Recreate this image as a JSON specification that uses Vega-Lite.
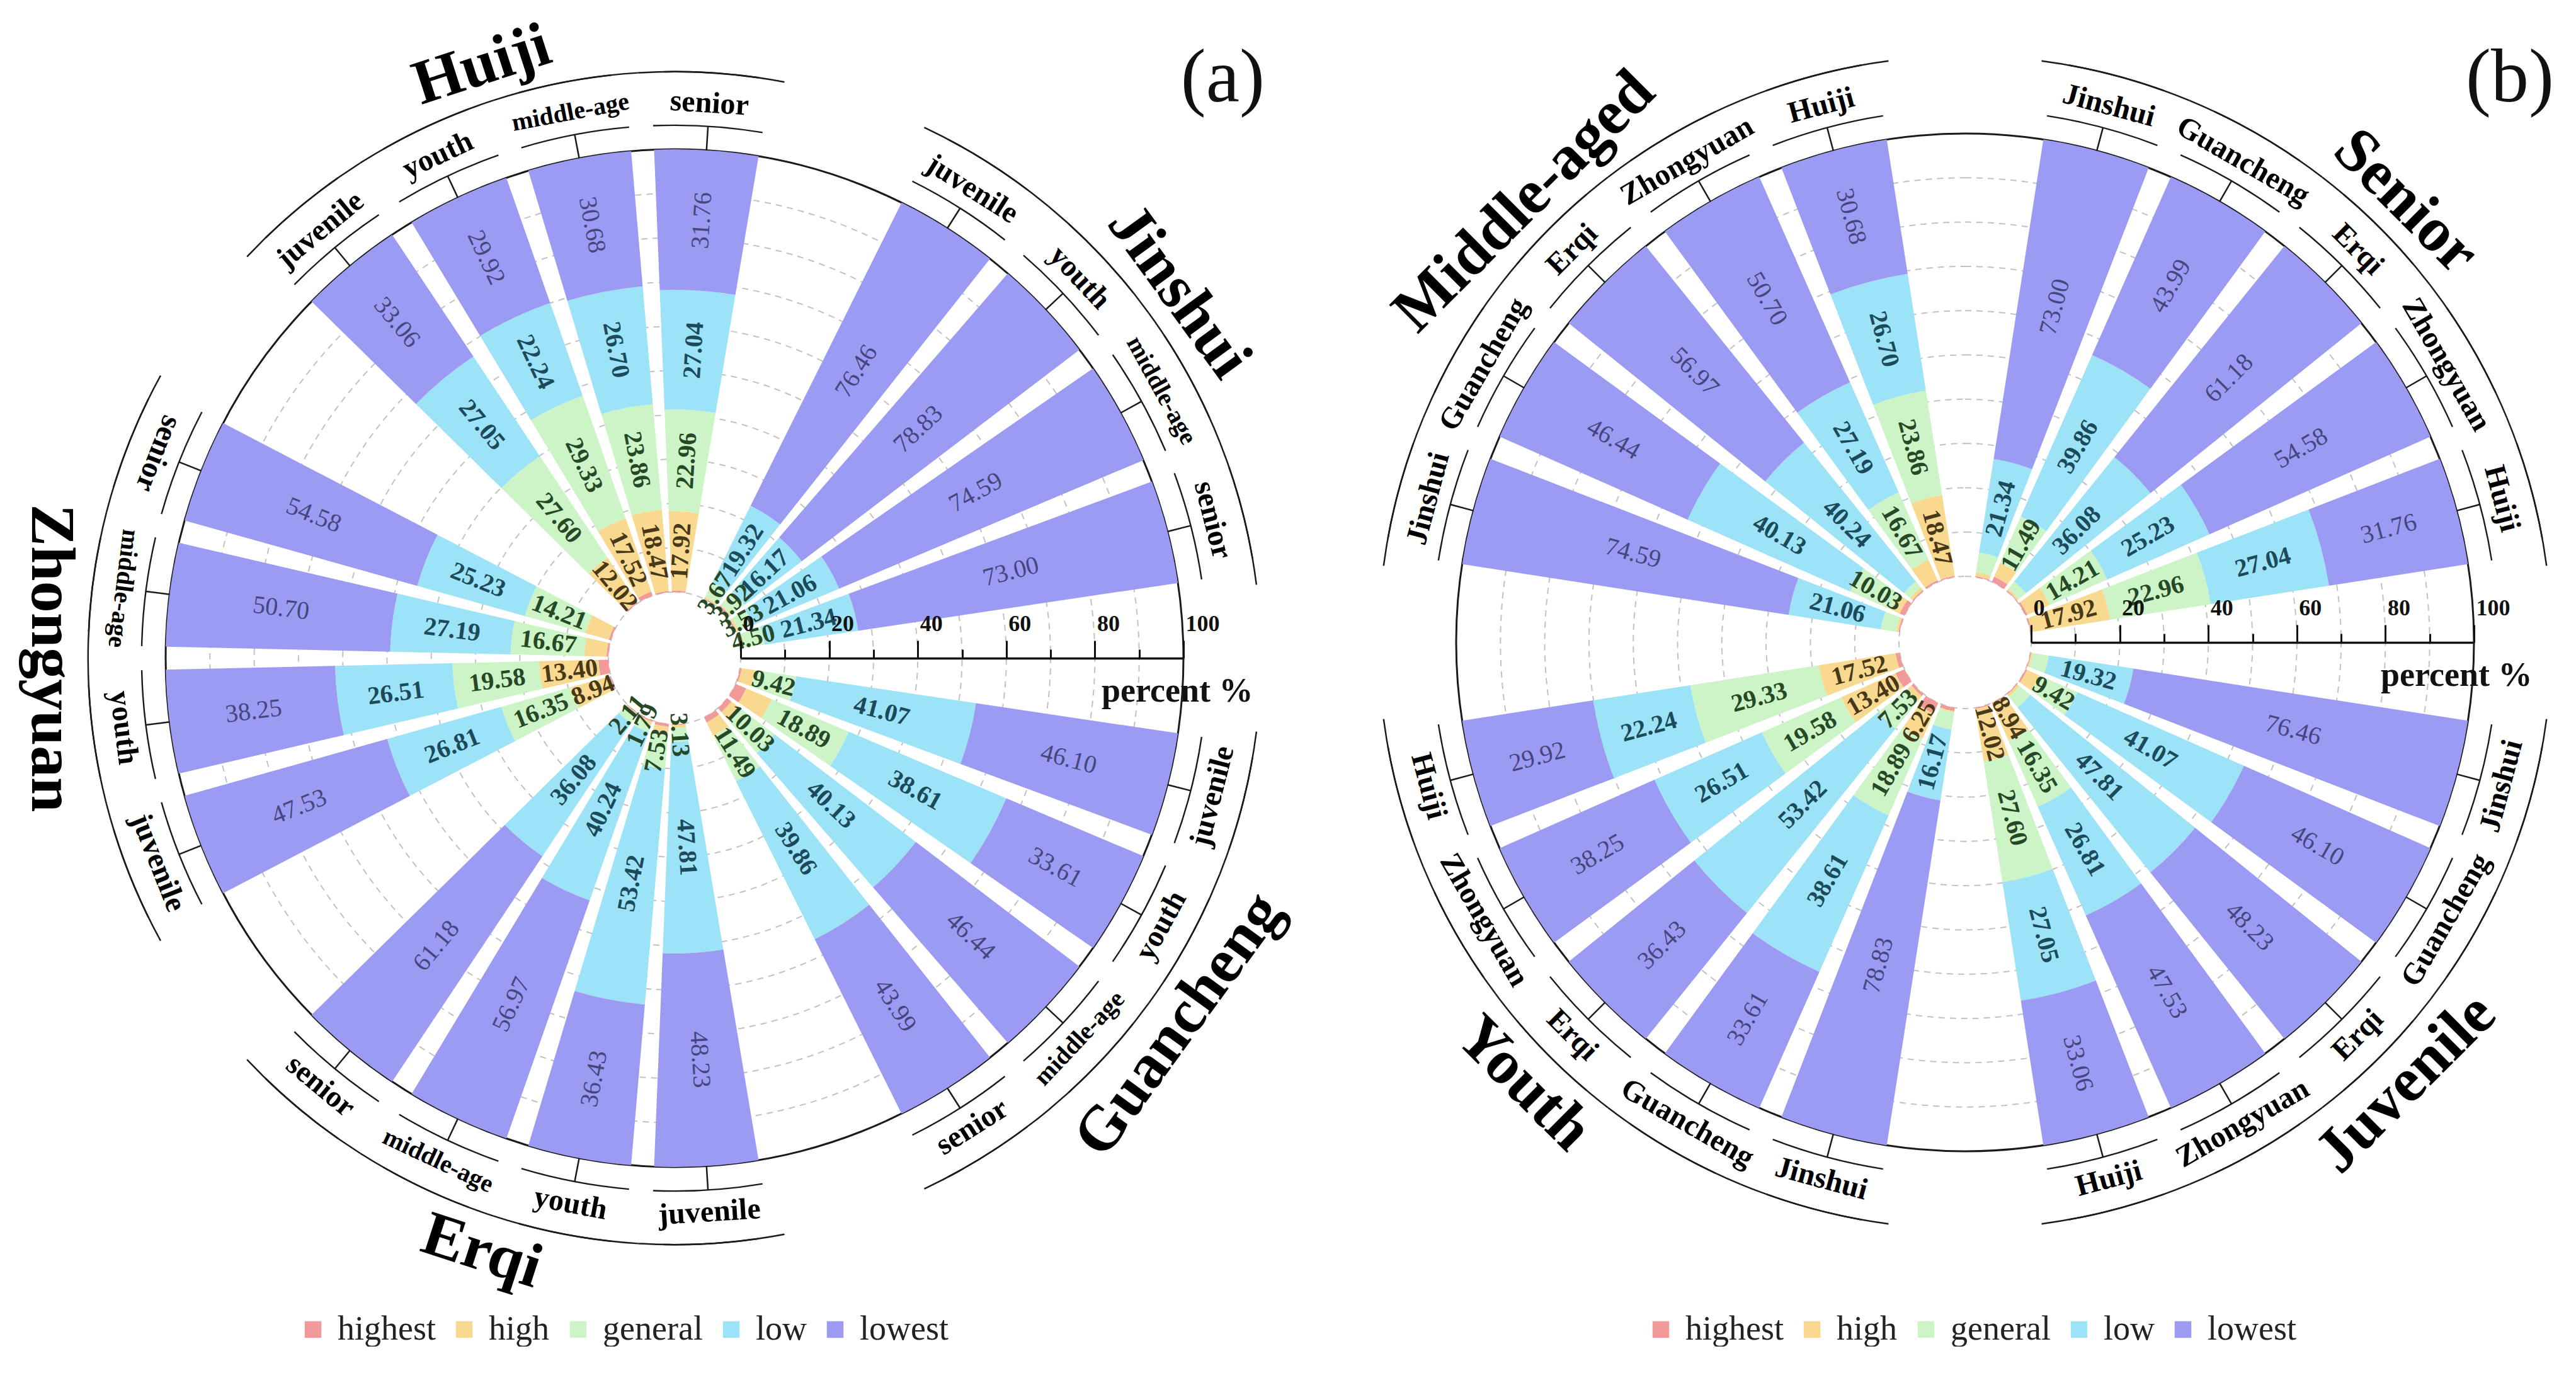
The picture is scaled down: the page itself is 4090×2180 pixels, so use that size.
{
  "$schema": "https://vega.github.io/schema/vega-lite/v6.json",
  "background": "white",
  "padding": 0,
  "bounds": "flush",
  "spacing": 0,
  "config": {"view": {"stroke": null}, "text": {"font": "Liberation Serif"},
    "axis": {"labelFont": "Liberation Serif", "titleFont": "Liberation Serif"},
    "legend": {"labelFont": "Liberation Serif", "titleFont": "Liberation Serif"},
    "style": {"guide-label": {"font": "Liberation Serif"}, "guide-title": {"font": "Liberation Serif"}}},
  "datasets": {
    "bars": [
      {"d":"Guancheng","a":"juvenile","c":"highest","v":0.41},{"d":"Guancheng","a":"juvenile","c":"high","v":3.00},{"d":"Guancheng","a":"juvenile","c":"general","v":9.42},{"d":"Guancheng","a":"juvenile","c":"low","v":41.07},{"d":"Guancheng","a":"juvenile","c":"lowest","v":46.10},
      {"d":"Guancheng","a":"youth","c":"highest","v":2.64},{"d":"Guancheng","a":"youth","c":"high","v":6.25},{"d":"Guancheng","a":"youth","c":"general","v":18.89},{"d":"Guancheng","a":"youth","c":"low","v":38.61},{"d":"Guancheng","a":"youth","c":"lowest","v":33.61},
      {"d":"Guancheng","a":"middle-age","c":"highest","v":1.20},{"d":"Guancheng","a":"middle-age","c":"high","v":2.20},{"d":"Guancheng","a":"middle-age","c":"general","v":10.03},{"d":"Guancheng","a":"middle-age","c":"low","v":40.13},{"d":"Guancheng","a":"middle-age","c":"lowest","v":46.44},
      {"d":"Guancheng","a":"senior","c":"highest","v":1.30},{"d":"Guancheng","a":"senior","c":"high","v":3.36},{"d":"Guancheng","a":"senior","c":"general","v":11.49},{"d":"Guancheng","a":"senior","c":"low","v":39.86},{"d":"Guancheng","a":"senior","c":"lowest","v":43.99},
      {"d":"Erqi","a":"juvenile","c":"highest","v":0.23},{"d":"Erqi","a":"juvenile","c":"high","v":0.60},{"d":"Erqi","a":"juvenile","c":"general","v":3.13},{"d":"Erqi","a":"juvenile","c":"low","v":47.81},{"d":"Erqi","a":"juvenile","c":"lowest","v":48.23},
      {"d":"Erqi","a":"youth","c":"highest","v":0.62},{"d":"Erqi","a":"youth","c":"high","v":2.00},{"d":"Erqi","a":"youth","c":"general","v":7.53},{"d":"Erqi","a":"youth","c":"low","v":53.42},{"d":"Erqi","a":"youth","c":"lowest","v":36.43},
      {"d":"Erqi","a":"middle-age","c":"highest","v":0.30},{"d":"Erqi","a":"middle-age","c":"high","v":0.70},{"d":"Erqi","a":"middle-age","c":"general","v":1.79},{"d":"Erqi","a":"middle-age","c":"low","v":40.24},{"d":"Erqi","a":"middle-age","c":"lowest","v":56.97},
      {"d":"Erqi","a":"senior","c":"highest","v":0.20},{"d":"Erqi","a":"senior","c":"high","v":0.43},{"d":"Erqi","a":"senior","c":"general","v":2.11},{"d":"Erqi","a":"senior","c":"low","v":36.08},{"d":"Erqi","a":"senior","c":"lowest","v":61.18},
      {"d":"Zhongyuan","a":"juvenile","c":"highest","v":0.37},{"d":"Zhongyuan","a":"juvenile","c":"high","v":8.94},{"d":"Zhongyuan","a":"juvenile","c":"general","v":16.35},{"d":"Zhongyuan","a":"juvenile","c":"low","v":26.81},{"d":"Zhongyuan","a":"juvenile","c":"lowest","v":47.53},
      {"d":"Zhongyuan","a":"youth","c":"highest","v":2.26},{"d":"Zhongyuan","a":"youth","c":"high","v":13.40},{"d":"Zhongyuan","a":"youth","c":"general","v":19.58},{"d":"Zhongyuan","a":"youth","c":"low","v":26.51},{"d":"Zhongyuan","a":"youth","c":"lowest","v":38.25},
      {"d":"Zhongyuan","a":"middle-age","c":"highest","v":0.44},{"d":"Zhongyuan","a":"middle-age","c":"high","v":5.00},{"d":"Zhongyuan","a":"middle-age","c":"general","v":16.67},{"d":"Zhongyuan","a":"middle-age","c":"low","v":27.19},{"d":"Zhongyuan","a":"middle-age","c":"lowest","v":50.70},
      {"d":"Zhongyuan","a":"senior","c":"highest","v":0.48},{"d":"Zhongyuan","a":"senior","c":"high","v":5.50},{"d":"Zhongyuan","a":"senior","c":"general","v":14.21},{"d":"Zhongyuan","a":"senior","c":"low","v":25.23},{"d":"Zhongyuan","a":"senior","c":"lowest","v":54.58},
      {"d":"Huiji","a":"juvenile","c":"highest","v":0.27},{"d":"Huiji","a":"juvenile","c":"high","v":12.02},{"d":"Huiji","a":"juvenile","c":"general","v":27.60},{"d":"Huiji","a":"juvenile","c":"low","v":27.05},{"d":"Huiji","a":"juvenile","c":"lowest","v":33.06},
      {"d":"Huiji","a":"youth","c":"highest","v":0.99},{"d":"Huiji","a":"youth","c":"high","v":17.52},{"d":"Huiji","a":"youth","c":"general","v":29.33},{"d":"Huiji","a":"youth","c":"low","v":22.24},{"d":"Huiji","a":"youth","c":"lowest","v":29.92},
      {"d":"Huiji","a":"middle-age","c":"highest","v":0.29},{"d":"Huiji","a":"middle-age","c":"high","v":18.47},{"d":"Huiji","a":"middle-age","c":"general","v":23.86},{"d":"Huiji","a":"middle-age","c":"low","v":26.70},{"d":"Huiji","a":"middle-age","c":"lowest","v":30.68},
      {"d":"Huiji","a":"senior","c":"highest","v":0.32},{"d":"Huiji","a":"senior","c":"high","v":17.92},{"d":"Huiji","a":"senior","c":"general","v":22.96},{"d":"Huiji","a":"senior","c":"low","v":27.04},{"d":"Huiji","a":"senior","c":"lowest","v":31.76},
      {"d":"Jinshui","a":"juvenile","c":"highest","v":0.20},{"d":"Jinshui","a":"juvenile","c":"high","v":0.35},{"d":"Jinshui","a":"juvenile","c":"general","v":3.67},{"d":"Jinshui","a":"juvenile","c":"low","v":19.32},{"d":"Jinshui","a":"juvenile","c":"lowest","v":76.46},
      {"d":"Jinshui","a":"youth","c":"highest","v":0.80},{"d":"Jinshui","a":"youth","c":"high","v":0.28},{"d":"Jinshui","a":"youth","c":"general","v":3.92},{"d":"Jinshui","a":"youth","c":"low","v":16.17},{"d":"Jinshui","a":"youth","c":"lowest","v":78.83},
      {"d":"Jinshui","a":"middle-age","c":"highest","v":0.32},{"d":"Jinshui","a":"middle-age","c":"high","v":0.50},{"d":"Jinshui","a":"middle-age","c":"general","v":3.53},{"d":"Jinshui","a":"middle-age","c":"low","v":21.06},{"d":"Jinshui","a":"middle-age","c":"lowest","v":74.59},
      {"d":"Jinshui","a":"senior","c":"highest","v":0.26},{"d":"Jinshui","a":"senior","c":"high","v":0.90},{"d":"Jinshui","a":"senior","c":"general","v":4.50},{"d":"Jinshui","a":"senior","c":"low","v":21.34},{"d":"Jinshui","a":"senior","c":"lowest","v":73.00}
    ]
  },
  "resolve": {"scale": {"theta": "independent", "radius": "independent", "x": "independent", "color": "independent"}, "legend": {"color": "independent"}},
  "hconcat": [
    {
      "name": "pa",
      "width": 2142,
      "height": 2090,
      "title": {"text": "(a)", "anchor": "end", "frame": "group", "orient": "top", "offset": 0, "dx": -134, "dy": 281, "baseline": "alphabetic", "fontSize": 120, "font": "Liberation Serif", "fontWeight": "normal", "color": "#111111"},
      "data": {"name": "bars"},
      "transform": [
        {"calculate": "datum.d + '|' + datum.a", "as": "k"},
        {"calculate": "indexof(['highest','high','general','low','lowest'], datum.c)", "as": "o"}
      ],
      "layer": [
        {
          "data": {"values": [{"r":0},{"r":10},{"r":20},{"r":30},{"r":40},{"r":50},{"r":60},{"r":70},{"r":80},{"r":90}]},
          "mark": {"type": "arc", "theta": 0, "theta2": 6.2832, "radius2": 0, "filled": false, "color": "#c2c2c2", "strokeWidth": 2, "strokeDash": [10, 8]},
          "encoding": {"radius": {"field": "r", "type": "quantitative", "stack": null, "scale": {"type": "linear", "domain": [0, 100], "range": [105, 808], "zero": false, "nice": false}}}
        },
        {
          "data": {"values": [{"r":100}]},
          "mark": {"type": "arc", "theta": 0, "theta2": 6.2832, "radius2": 0, "filled": false, "color": "#1a1a1a", "strokeWidth": 3},
          "encoding": {"radius": {"field": "r", "type": "quantitative", "stack": null, "scale": {"type": "linear", "domain": [0, 100], "range": [105, 808], "zero": false, "nice": false}}}
        },
        {
          "mark": {"type": "arc"},
          "encoding": {
            "theta": {"field": "k", "type": "nominal", "scale": {"type":"band","domain":["Guancheng|juvenile","Guancheng|youth","Guancheng|middle-age","Guancheng|senior","g1","Erqi|juvenile","Erqi|youth","Erqi|middle-age","Erqi|senior","g2","Zhongyuan|juvenile","Zhongyuan|youth","Zhongyuan|middle-age","Zhongyuan|senior","g3","Huiji|juvenile","Huiji|youth","Huiji|middle-age","Huiji|senior","g4","Jinshui|juvenile","Jinshui|youth","Jinshui|middle-age","Jinshui|senior","g5"],"range":[1.69646,7.979645],"paddingInner":0.18,"paddingOuter":0.09}},
            "radius": {"field": "v", "type": "quantitative", "stack": "zero", "scale": {"type": "linear", "domain": [0, 100], "range": [105, 808], "zero": false, "nice": false}},
            "color": {"field": "c", "type": "nominal", "scale": {"domain": ["highest","high","general","low","lowest"], "range": ["#F29A9A","#F9D98F","#CCF4C6","#9DE3F8","#9B9BF3"]},
              "legend": {"orient": "none", "legendX": 470, "legendY": 2084, "direction": "horizontal", "gridAlign": "none", "title": null, "symbolType": "square", "symbolSize": 700, "symbolStrokeWidth": 0, "symbolOpacity": 1, "labelFont": "Liberation Serif", "labelFontSize": 54, "labelFontWeight": "normal", "labelColor": "#222222", "labelOffset": 12, "columnPadding": 18, "labelLimit": 400, "padding": 0}},
            "order": {"field": "o", "type": "quantitative"}
          }
        },
        {
          "mark": {"type": "text", "fontSize": 40, "align": "center", "baseline": "middle",
            "fontWeight": {"expr": "datum.c == 'lowest' ? 'normal' : 'bold'"},
            "angle": {"expr": "((scale('pa_theta', datum.k) + bandwidth('pa_theta') * 0.5) * 57.29578 % 360) < 180 ? ((scale('pa_theta', datum.k) + bandwidth('pa_theta') * 0.5) * 57.29578 % 360) - 90 : ((scale('pa_theta', datum.k) + bandwidth('pa_theta') * 0.5) * 57.29578 % 360) - 270"}},
          "encoding": {
            "theta": {"field": "k", "type": "nominal", "scale": {"type":"band","domain":["Guancheng|juvenile","Guancheng|youth","Guancheng|middle-age","Guancheng|senior","g1","Erqi|juvenile","Erqi|youth","Erqi|middle-age","Erqi|senior","g2","Zhongyuan|juvenile","Zhongyuan|youth","Zhongyuan|middle-age","Zhongyuan|senior","g3","Huiji|juvenile","Huiji|youth","Huiji|middle-age","Huiji|senior","g4","Jinshui|juvenile","Jinshui|youth","Jinshui|middle-age","Jinshui|senior","g5"],"range":[1.69646,7.979645],"paddingInner":0.18,"paddingOuter":0.09}},
            "radius": {"field": "v", "type": "quantitative", "stack": "zero", "scale": {"type": "linear", "domain": [0, 100], "range": [105, 808], "zero": false, "nice": false}},
            "detail": {"field": "c"},
            "order": {"field": "o", "type": "quantitative"},
            "text": {"field": "v", "type": "quantitative", "format": ".2f", "condition": {"test": "datum.c == 'highest' || (datum.c == 'high' && datum.v < 8)", "value": ""}},
            "color": {"condition": [{"test": "datum.c == 'lowest'", "value": "#46467f"}, {"test": "datum.c == 'low'", "value": "#1b4a5a"}, {"test": "datum.c == 'general'", "value": "#274827"}], "value": "#473818"}
          }
        },
        {
          "transform": [{"filter": "datum.c == 'lowest'"}],
          "mark": {"type": "arc", "color": "#1a1a1a"},
          "encoding": {
            "theta": {"field": "k", "type": "nominal", "scale": {"type":"band","domain":["Guancheng|juvenile","Guancheng|youth","Guancheng|middle-age","Guancheng|senior","g1","Erqi|juvenile","Erqi|youth","Erqi|middle-age","Erqi|senior","g2","Zhongyuan|juvenile","Zhongyuan|youth","Zhongyuan|middle-age","Zhongyuan|senior","g3","Huiji|juvenile","Huiji|youth","Huiji|middle-age","Huiji|senior","g4","Jinshui|juvenile","Jinshui|youth","Jinshui|middle-age","Jinshui|senior","g5"],"range":[1.69646,7.979645],"paddingInner":0.18,"paddingOuter":0.09}},
            "radius": {"datum": 105.26, "type": "quantitative", "scale": {"type": "linear", "domain": [0, 100], "range": [105, 808], "zero": false, "nice": false}},
            "radius2": {"datum": 105.6}
          }
        },
        {
          "transform": [{"filter": "datum.c == 'lowest'"}],
          "mark": {"type": "arc", "filled": false, "color": "#1a1a1a", "strokeWidth": 2.5, "padAngle": 0.4},
          "encoding": {
            "theta": {"field": "k", "type": "nominal", "scale": {"type":"band","domain":["Guancheng|juvenile","Guancheng|youth","Guancheng|middle-age","Guancheng|senior","g1","Erqi|juvenile","Erqi|youth","Erqi|middle-age","Erqi|senior","g2","Zhongyuan|juvenile","Zhongyuan|youth","Zhongyuan|middle-age","Zhongyuan|senior","g3","Huiji|juvenile","Huiji|youth","Huiji|middle-age","Huiji|senior","g4","Jinshui|juvenile","Jinshui|youth","Jinshui|middle-age","Jinshui|senior","g5"],"range":[1.69646,7.979645],"paddingInner":0.18,"paddingOuter":0.09}},
            "radius": {"datum": 100, "type": "quantitative", "scale": {"type": "linear", "domain": [0, 100], "range": [105, 808], "zero": false, "nice": false}},
            "radius2": {"datum": 105.4}
          }
        },
        {
          "transform": [{"filter": "datum.c == 'lowest'"}],
          "mark": {"type": "text", "fontWeight": "bold", "color": "#000000", "align": "center", "baseline": "middle",
            "angle": {"expr": "(((scale('pa_theta', datum.k) + bandwidth('pa_theta') * 0.5) * 57.29578 % 360) > 90 && ((scale('pa_theta', datum.k) + bandwidth('pa_theta') * 0.5) * 57.29578 % 360) < 300) ? ((scale('pa_theta', datum.k) + bandwidth('pa_theta') * 0.5) * 57.29578 % 360) - 180 : ((scale('pa_theta', datum.k) + bandwidth('pa_theta') * 0.5) * 57.29578 % 360)"}},
          "encoding": {
            "theta": {"field": "k", "type": "nominal", "scale": {"type":"band","domain":["Guancheng|juvenile","Guancheng|youth","Guancheng|middle-age","Guancheng|senior","g1","Erqi|juvenile","Erqi|youth","Erqi|middle-age","Erqi|senior","g2","Zhongyuan|juvenile","Zhongyuan|youth","Zhongyuan|middle-age","Zhongyuan|senior","g3","Huiji|juvenile","Huiji|youth","Huiji|middle-age","Huiji|senior","g4","Jinshui|juvenile","Jinshui|youth","Jinshui|middle-age","Jinshui|senior","g5"],"range":[1.69646,7.979645],"paddingInner":0.18,"paddingOuter":0.09}},
            "radius": {"datum": 110.53, "type": "quantitative", "scale": {"type": "linear", "domain": [0, 100], "range": [105, 808], "zero": false, "nice": false}},
            "text": {"field": "a"},
            "size": {"condition": {"test": "datum.a == 'middle-age'", "value": 40}, "value": 48}
          }
        },
        {
          "transform": [{"filter": "datum.c == 'lowest'"}],
          "mark": {"type": "arc", "color": "#1a1a1a", "thetaOffset": -0.02262},
          "encoding": {
            "theta": {"field": "k", "type": "nominal", "scale": {"type":"band","domain":["Guancheng|juvenile","Guancheng|youth","Guancheng|middle-age","Guancheng|senior","g1","Erqi|juvenile","Erqi|youth","Erqi|middle-age","Erqi|senior","g2","Zhongyuan|juvenile","Zhongyuan|youth","Zhongyuan|middle-age","Zhongyuan|senior","g3","Huiji|juvenile","Huiji|youth","Huiji|middle-age","Huiji|senior","g4","Jinshui|juvenile","Jinshui|youth","Jinshui|middle-age","Jinshui|senior","g5"],"range":[1.69646,7.979645],"paddingInner":0.18,"paddingOuter":0.09}},
            "radius": {"datum": 117.35, "type": "quantitative", "scale": {"type": "linear", "domain": [0, 100], "range": [105, 808], "zero": false, "nice": false}},
            "radius2": {"datum": 117.7}
          }
        },
        {
          "transform": [{"filter": "datum.c == 'lowest'"}],
          "mark": {"type": "arc", "color": "#1a1a1a", "thetaOffset": 0.02262},
          "encoding": {
            "theta": {"field": "k", "type": "nominal", "scale": {"type":"band","domain":["Guancheng|juvenile","Guancheng|youth","Guancheng|middle-age","Guancheng|senior","g1","Erqi|juvenile","Erqi|youth","Erqi|middle-age","Erqi|senior","g2","Zhongyuan|juvenile","Zhongyuan|youth","Zhongyuan|middle-age","Zhongyuan|senior","g3","Huiji|juvenile","Huiji|youth","Huiji|middle-age","Huiji|senior","g4","Jinshui|juvenile","Jinshui|youth","Jinshui|middle-age","Jinshui|senior","g5"],"range":[1.69646,7.979645],"paddingInner":0.18,"paddingOuter":0.09}},
            "radius": {"datum": 117.35, "type": "quantitative", "scale": {"type": "linear", "domain": [0, 100], "range": [105, 808], "zero": false, "nice": false}},
            "radius2": {"datum": 117.7}
          }
        },
        {
          "data": {"values": [{"k":"Guancheng|youth","t":"Guancheng"},{"k":"Erqi|youth","t":"Erqi"},{"k":"Zhongyuan|youth","t":"Zhongyuan"},{"k":"Huiji|youth","t":"Huiji"},{"k":"Jinshui|youth","t":"Jinshui"}]},
          "mark": {"type": "text", "fontSize": 100, "fontWeight": "bold", "color": "#000000", "align": "center", "baseline": "middle",
            "angle": {"expr": "(((scale('pa_theta', datum.k) + bandwidth('pa_theta') * 1.10976) * 57.29578 % 360) > 90 && ((scale('pa_theta', datum.k) + bandwidth('pa_theta') * 1.10976) * 57.29578 % 360) < 300) ? ((scale('pa_theta', datum.k) + bandwidth('pa_theta') * 1.10976) * 57.29578 % 360) - 180 : ((scale('pa_theta', datum.k) + bandwidth('pa_theta') * 1.10976) * 57.29578 % 360)"}},
          "encoding": {
            "theta": {"field": "k", "type": "nominal", "bandPosition": 1.10976, "scale": {"type":"band","domain":["Guancheng|juvenile","Guancheng|youth","Guancheng|middle-age","Guancheng|senior","g1","Erqi|juvenile","Erqi|youth","Erqi|middle-age","Erqi|senior","g2","Zhongyuan|juvenile","Zhongyuan|youth","Zhongyuan|middle-age","Zhongyuan|senior","g3","Huiji|juvenile","Huiji|youth","Huiji|middle-age","Huiji|senior","g4","Jinshui|juvenile","Jinshui|youth","Jinshui|middle-age","Jinshui|senior","g5"],"range":[1.69646,7.979645],"paddingInner":0.18,"paddingOuter":0.09}},
            "radius": {"datum": 125.9, "type": "quantitative", "scale": {"type": "linear", "domain": [0, 100], "range": [105, 808], "zero": false, "nice": false}},
            "text": {"field": "t"}
          }
        },
        {
          "data": {"values": [{"p": 0}, {"p": 100}]},
          "mark": {"type": "point", "opacity": 0},
          "encoding": {
            "x": {"field": "p", "type": "quantitative", "scale": {"domain": [0, 100], "range": [1176, 1879], "zero": false, "nice": false},
              "axis": {"orient": "top", "offset": -1045, "values": [0,10,20,30,40,50,60,70,80,90,100], "grid": false, "zindex": 2,
                "labelExpr": "datum.value % 20 === 0 ? datum.label : ''",
                "tickSize": {"condition": {"test": "datum.value % 20 === 0", "value": 28}, "value": 14},
                "tickWidth": 3, "tickColor": "#111111", "domainColor": "#111111", "domainWidth": 3.5,
                "labelFont": "Liberation Serif", "labelFontSize": 36, "labelFontWeight": "bold", "labelColor": "#111111",
                "labelAlign": "left", "labelBaseline": "bottom", "labelPadding": 8, "labelOffset": 3, "labelFlush": false, "labelOverlap": false,
                "title": "percent %", "titleFont": "Liberation Serif", "titleFontSize": 54, "titleFontWeight": "bold", "titleColor": "#111111",
                "titleAlign": "right", "titleBaseline": "middle", "titleAnchor": "end", "titleX": 1989, "titleY": 52}}
          }
        }
      ]
    },
    {
      "name": "pb",
      "width": 1956,
      "height": 2040,
      "title": {"text": "(b)", "anchor": "end", "frame": "group", "orient": "top", "offset": 0, "dx": -43, "dy": 281, "baseline": "alphabetic", "fontSize": 120, "font": "Liberation Serif", "fontWeight": "normal", "color": "#111111"},
      "data": {"name": "bars"},
      "transform": [
        {"calculate": "datum.a + '|' + datum.d", "as": "k"},
        {"calculate": "indexof(['highest','high','general','low','lowest'], datum.c)", "as": "o"}
      ],
      "layer": [
        {
          "data": {"values": [{"r":0},{"r":10},{"r":20},{"r":30},{"r":40},{"r":50},{"r":60},{"r":70},{"r":80},{"r":90}]},
          "mark": {"type": "arc", "theta": 0, "theta2": 6.2832, "radius2": 0, "filled": false, "color": "#c2c2c2", "strokeWidth": 2, "strokeDash": [10, 8]},
          "encoding": {"radius": {"field": "r", "type": "quantitative", "stack": null, "scale": {"type": "linear", "domain": [0, 100], "range": [105, 808], "zero": false, "nice": false}}}
        },
        {
          "data": {"values": [{"r":100}]},
          "mark": {"type": "arc", "theta": 0, "theta2": 6.2832, "radius2": 0, "filled": false, "color": "#1a1a1a", "strokeWidth": 3},
          "encoding": {"radius": {"field": "r", "type": "quantitative", "stack": null, "scale": {"type": "linear", "domain": [0, 100], "range": [105, 808], "zero": false, "nice": false}}}
        },
        {
          "mark": {"type": "arc"},
          "encoding": {
            "theta": {"field": "k", "type": "nominal", "scale": {"type":"band","domain":["juvenile|Jinshui","juvenile|Guancheng","juvenile|Erqi","juvenile|Zhongyuan","juvenile|Huiji","g1","youth|Jinshui","youth|Guancheng","youth|Erqi","youth|Zhongyuan","youth|Huiji","g2","middle-age|Jinshui","middle-age|Guancheng","middle-age|Erqi","middle-age|Zhongyuan","middle-age|Huiji","g3","senior|Jinshui","senior|Guancheng","senior|Erqi","senior|Zhongyuan","senior|Huiji","g4"],"range":[1.701696,7.984881],"paddingInner":0.18,"paddingOuter":0.09}},
            "radius": {"field": "v", "type": "quantitative", "stack": "zero", "scale": {"type": "linear", "domain": [0, 100], "range": [105, 808], "zero": false, "nice": false}},
            "color": {"field": "c", "type": "nominal", "scale": {"domain": ["highest","high","general","low","lowest"], "range": ["#F29A9A","#F9D98F","#CCF4C6","#9DE3F8","#9B9BF3"]},
              "legend": {"orient": "none", "legendX": 468, "legendY": 2084, "direction": "horizontal", "gridAlign": "none", "title": null, "symbolType": "square", "symbolSize": 700, "symbolStrokeWidth": 0, "symbolOpacity": 1, "labelFont": "Liberation Serif", "labelFontSize": 54, "labelFontWeight": "normal", "labelColor": "#222222", "labelOffset": 12, "columnPadding": 18, "labelLimit": 400, "padding": 0}},
            "order": {"field": "o", "type": "quantitative"}
          }
        },
        {
          "mark": {"type": "text", "fontSize": 40, "align": "center", "baseline": "middle",
            "fontWeight": {"expr": "datum.c == 'lowest' ? 'normal' : 'bold'"},
            "angle": {"expr": "((scale('pb_theta', datum.k) + bandwidth('pb_theta') * 0.5) * 57.29578 % 360) < 180 ? ((scale('pb_theta', datum.k) + bandwidth('pb_theta') * 0.5) * 57.29578 % 360) - 90 : ((scale('pb_theta', datum.k) + bandwidth('pb_theta') * 0.5) * 57.29578 % 360) - 270"}},
          "encoding": {
            "theta": {"field": "k", "type": "nominal", "scale": {"type":"band","domain":["juvenile|Jinshui","juvenile|Guancheng","juvenile|Erqi","juvenile|Zhongyuan","juvenile|Huiji","g1","youth|Jinshui","youth|Guancheng","youth|Erqi","youth|Zhongyuan","youth|Huiji","g2","middle-age|Jinshui","middle-age|Guancheng","middle-age|Erqi","middle-age|Zhongyuan","middle-age|Huiji","g3","senior|Jinshui","senior|Guancheng","senior|Erqi","senior|Zhongyuan","senior|Huiji","g4"],"range":[1.701696,7.984881],"paddingInner":0.18,"paddingOuter":0.09}},
            "radius": {"field": "v", "type": "quantitative", "stack": "zero", "scale": {"type": "linear", "domain": [0, 100], "range": [105, 808], "zero": false, "nice": false}},
            "detail": {"field": "c"},
            "order": {"field": "o", "type": "quantitative"},
            "text": {"field": "v", "type": "quantitative", "format": ".2f", "condition": {"test": "datum.c == 'highest' || (datum.c == 'high' && datum.v < 6) || (datum.c == 'general' && datum.v < 5)", "value": ""}},
            "color": {"condition": [{"test": "datum.c == 'lowest'", "value": "#46467f"}, {"test": "datum.c == 'low'", "value": "#1b4a5a"}, {"test": "datum.c == 'general'", "value": "#274827"}], "value": "#473818"}
          }
        },
        {
          "transform": [{"filter": "datum.c == 'lowest'"}],
          "mark": {"type": "arc", "color": "#1a1a1a"},
          "encoding": {
            "theta": {"field": "k", "type": "nominal", "scale": {"type":"band","domain":["juvenile|Jinshui","juvenile|Guancheng","juvenile|Erqi","juvenile|Zhongyuan","juvenile|Huiji","g1","youth|Jinshui","youth|Guancheng","youth|Erqi","youth|Zhongyuan","youth|Huiji","g2","middle-age|Jinshui","middle-age|Guancheng","middle-age|Erqi","middle-age|Zhongyuan","middle-age|Huiji","g3","senior|Jinshui","senior|Guancheng","senior|Erqi","senior|Zhongyuan","senior|Huiji","g4"],"range":[1.701696,7.984881],"paddingInner":0.18,"paddingOuter":0.09}},
            "radius": {"datum": 105.26, "type": "quantitative", "scale": {"type": "linear", "domain": [0, 100], "range": [105, 808], "zero": false, "nice": false}},
            "radius2": {"datum": 105.6}
          }
        },
        {
          "transform": [{"filter": "datum.c == 'lowest'"}],
          "mark": {"type": "arc", "filled": false, "color": "#1a1a1a", "strokeWidth": 2.5, "padAngle": 0.4},
          "encoding": {
            "theta": {"field": "k", "type": "nominal", "scale": {"type":"band","domain":["juvenile|Jinshui","juvenile|Guancheng","juvenile|Erqi","juvenile|Zhongyuan","juvenile|Huiji","g1","youth|Jinshui","youth|Guancheng","youth|Erqi","youth|Zhongyuan","youth|Huiji","g2","middle-age|Jinshui","middle-age|Guancheng","middle-age|Erqi","middle-age|Zhongyuan","middle-age|Huiji","g3","senior|Jinshui","senior|Guancheng","senior|Erqi","senior|Zhongyuan","senior|Huiji","g4"],"range":[1.701696,7.984881],"paddingInner":0.18,"paddingOuter":0.09}},
            "radius": {"datum": 100, "type": "quantitative", "scale": {"type": "linear", "domain": [0, 100], "range": [105, 808], "zero": false, "nice": false}},
            "radius2": {"datum": 105.4}
          }
        },
        {
          "transform": [{"filter": "datum.c == 'lowest'"}],
          "mark": {"type": "text", "fontSize": 48, "fontWeight": "bold", "color": "#000000", "align": "center", "baseline": "middle",
            "angle": {"expr": "(((scale('pb_theta', datum.k) + bandwidth('pb_theta') * 0.5) * 57.29578 % 360) > 90 && ((scale('pb_theta', datum.k) + bandwidth('pb_theta') * 0.5) * 57.29578 % 360) < 270) ? ((scale('pb_theta', datum.k) + bandwidth('pb_theta') * 0.5) * 57.29578 % 360) - 180 : ((scale('pb_theta', datum.k) + bandwidth('pb_theta') * 0.5) * 57.29578 % 360)"}},
          "encoding": {
            "theta": {"field": "k", "type": "nominal", "scale": {"type":"band","domain":["juvenile|Jinshui","juvenile|Guancheng","juvenile|Erqi","juvenile|Zhongyuan","juvenile|Huiji","g1","youth|Jinshui","youth|Guancheng","youth|Erqi","youth|Zhongyuan","youth|Huiji","g2","middle-age|Jinshui","middle-age|Guancheng","middle-age|Erqi","middle-age|Zhongyuan","middle-age|Huiji","g3","senior|Jinshui","senior|Guancheng","senior|Erqi","senior|Zhongyuan","senior|Huiji","g4"],"range":[1.701696,7.984881],"paddingInner":0.18,"paddingOuter":0.09}},
            "radius": {"datum": 110.53, "type": "quantitative", "scale": {"type": "linear", "domain": [0, 100], "range": [105, 808], "zero": false, "nice": false}},
            "text": {"field": "d"}
          }
        },
        {
          "transform": [{"filter": "datum.c == 'lowest'"}],
          "mark": {"type": "arc", "color": "#1a1a1a", "thetaOffset": -0.02356},
          "encoding": {
            "theta": {"field": "k", "type": "nominal", "scale": {"type":"band","domain":["juvenile|Jinshui","juvenile|Guancheng","juvenile|Erqi","juvenile|Zhongyuan","juvenile|Huiji","g1","youth|Jinshui","youth|Guancheng","youth|Erqi","youth|Zhongyuan","youth|Huiji","g2","middle-age|Jinshui","middle-age|Guancheng","middle-age|Erqi","middle-age|Zhongyuan","middle-age|Huiji","g3","senior|Jinshui","senior|Guancheng","senior|Erqi","senior|Zhongyuan","senior|Huiji","g4"],"range":[1.701696,7.984881],"paddingInner":0.18,"paddingOuter":0.09}},
            "radius": {"datum": 117.35, "type": "quantitative", "scale": {"type": "linear", "domain": [0, 100], "range": [105, 808], "zero": false, "nice": false}},
            "radius2": {"datum": 117.7}
          }
        },
        {
          "transform": [{"filter": "datum.c == 'lowest'"}],
          "mark": {"type": "arc", "color": "#1a1a1a", "thetaOffset": 0.02356},
          "encoding": {
            "theta": {"field": "k", "type": "nominal", "scale": {"type":"band","domain":["juvenile|Jinshui","juvenile|Guancheng","juvenile|Erqi","juvenile|Zhongyuan","juvenile|Huiji","g1","youth|Jinshui","youth|Guancheng","youth|Erqi","youth|Zhongyuan","youth|Huiji","g2","middle-age|Jinshui","middle-age|Guancheng","middle-age|Erqi","middle-age|Zhongyuan","middle-age|Huiji","g3","senior|Jinshui","senior|Guancheng","senior|Erqi","senior|Zhongyuan","senior|Huiji","g4"],"range":[1.701696,7.984881],"paddingInner":0.18,"paddingOuter":0.09}},
            "radius": {"datum": 117.35, "type": "quantitative", "scale": {"type": "linear", "domain": [0, 100], "range": [105, 808], "zero": false, "nice": false}},
            "radius2": {"datum": 117.7}
          }
        },
        {
          "data": {"values": [{"k":"juvenile|Erqi","t":"Juvenile"},{"k":"youth|Erqi","t":"Youth"},{"k":"middle-age|Erqi","t":"Middle-aged"},{"k":"senior|Erqi","t":"Senior"}]},
          "mark": {"type": "text", "fontSize": 100, "fontWeight": "bold", "color": "#000000", "align": "center", "baseline": "middle",
            "angle": {"expr": "(((scale('pb_theta', datum.k) + bandwidth('pb_theta') * 0.5) * 57.29578 % 360) > 90 && ((scale('pb_theta', datum.k) + bandwidth('pb_theta') * 0.5) * 57.29578 % 360) < 270) ? ((scale('pb_theta', datum.k) + bandwidth('pb_theta') * 0.5) * 57.29578 % 360) - 180 : ((scale('pb_theta', datum.k) + bandwidth('pb_theta') * 0.5) * 57.29578 % 360)"}},
          "encoding": {
            "theta": {"field": "k", "type": "nominal", "scale": {"type":"band","domain":["juvenile|Jinshui","juvenile|Guancheng","juvenile|Erqi","juvenile|Zhongyuan","juvenile|Huiji","g1","youth|Jinshui","youth|Guancheng","youth|Erqi","youth|Zhongyuan","youth|Huiji","g2","middle-age|Jinshui","middle-age|Guancheng","middle-age|Erqi","middle-age|Zhongyuan","middle-age|Huiji","g3","senior|Jinshui","senior|Guancheng","senior|Erqi","senior|Zhongyuan","senior|Huiji","g4"],"range":[1.701696,7.984881],"paddingInner":0.18,"paddingOuter":0.09}},
            "radius": {"datum": 125.9, "type": "quantitative", "scale": {"type": "linear", "domain": [0, 100], "range": [105, 808], "zero": false, "nice": false}},
            "text": {"field": "t"}
          }
        },
        {
          "data": {"values": [{"p": 0}, {"p": 100}]},
          "mark": {"type": "point", "opacity": 0},
          "encoding": {
            "x": {"field": "p", "type": "quantitative", "scale": {"domain": [0, 100], "range": [1083, 1786], "zero": false, "nice": false},
              "axis": {"orient": "top", "offset": -1020, "values": [0,10,20,30,40,50,60,70,80,90,100], "grid": false, "zindex": 2,
                "labelExpr": "datum.value % 20 === 0 ? datum.label : ''",
                "tickSize": {"condition": {"test": "datum.value % 20 === 0", "value": 28}, "value": 14},
                "tickWidth": 3, "tickColor": "#111111", "domainColor": "#111111", "domainWidth": 3.5,
                "labelFont": "Liberation Serif", "labelFontSize": 36, "labelFontWeight": "bold", "labelColor": "#111111",
                "labelAlign": "left", "labelBaseline": "bottom", "labelPadding": 8, "labelOffset": 3, "labelFlush": false, "labelOverlap": false,
                "title": "percent %", "titleFont": "Liberation Serif", "titleFontSize": 54, "titleFontWeight": "bold", "titleColor": "#111111",
                "titleAlign": "right", "titleBaseline": "middle", "titleAnchor": "end", "titleX": 1878, "titleY": 52}}
          }
        }
      ]
    }
  ]
}
